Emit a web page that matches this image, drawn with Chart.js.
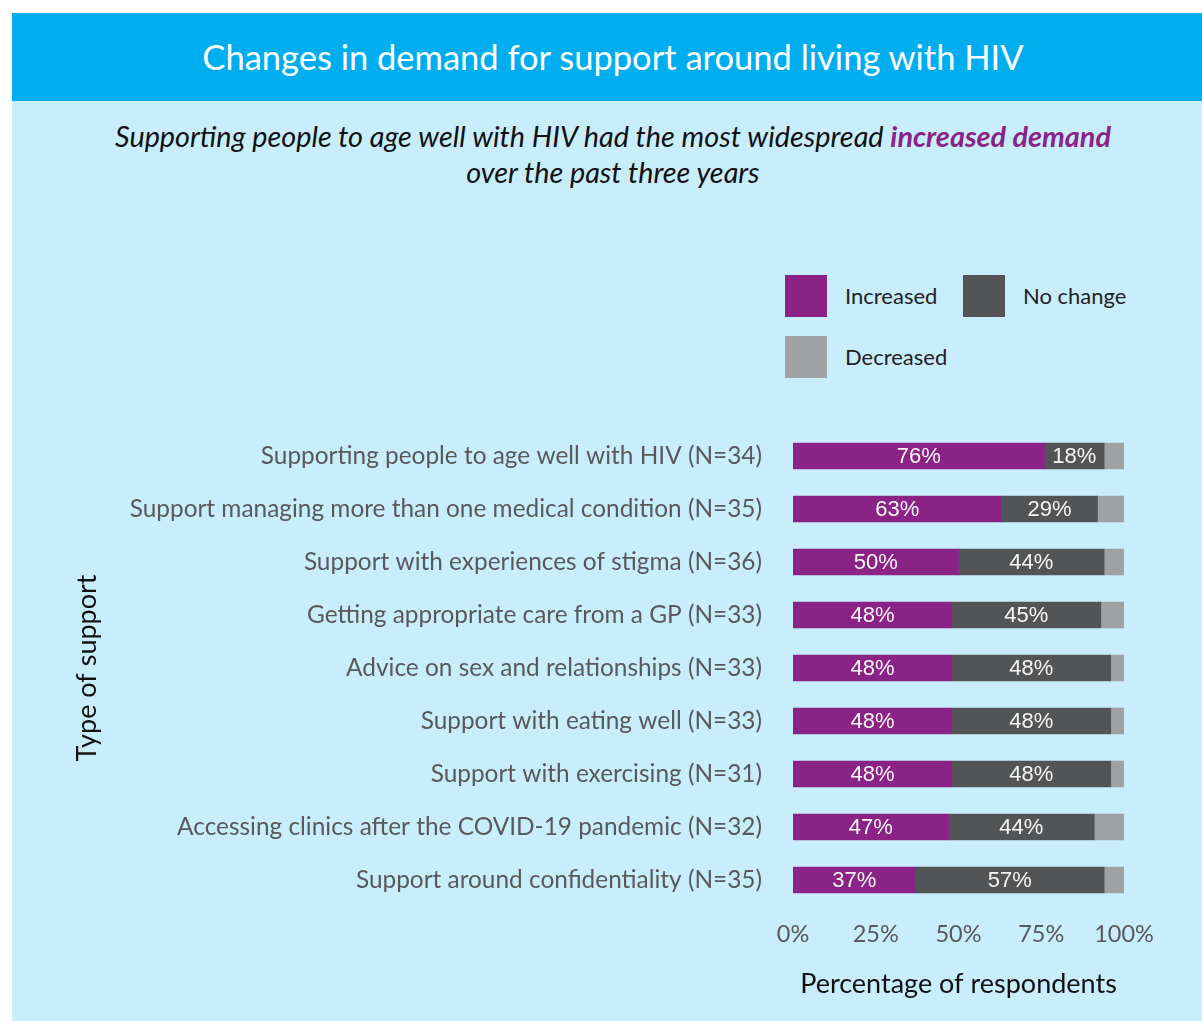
<!DOCTYPE html>
<html>
<head>
  <meta charset="utf-8">
  <title>Changes in demand for support around living with HIV</title>
  <script src="https://cdn.jsdelivr.net/npm/chart.js"></script>
  <style>
    html, body {
        margin: 0;
        padding: 0;
        width: 1202px;
        height: 1021px;
        overflow: hidden;
        background: #fff;
        font-family: Lato, sans-serif;
    }
    .panel {
        position: absolute;
        left: 12px;
        top: 13px;
        width: 1202px;
        height: 1008px;
        background: #c8eefd;
    }
    .header {
        height: 88px;
        line-height: 88px;
        background: #00aeef;
        color: #fff;
        font-size: 34.5px;
        text-align: center;
    }
    .subtitle {
        margin-top: 17px;
        font-size: 28.8px;
        line-height: 36px;
        font-style: italic;
        text-align: center;
        color: #111;
    }
    .subtitle b {
        color: #8b2387;
    }
    #legend {
        position: absolute;
        left: 773px;
        top: 262px;
    }
    .legend-item {
        position: absolute;
        width: 178px;
        height: 42px;
    }
    .legend-item span {
        position: absolute;
        left: 0;
        top: 0;
        width: 42px;
        height: 42px;
    }
    .legend-item label {
        position: absolute;
        left: 60px;
        top: 0;
        line-height: 42px;
        font-size: 22px;
        color: #222;
        white-space: nowrap;
    }
    .chart-box {
        position: absolute;
        left: 0;
        top: 387px;
        width: 1202px;
        height: 621px;
    }
  </style>
</head>
<body>

  <div class="panel">
    <div class="header">Changes in demand for support around living with HIV</div>
    <div class="subtitle">
      Supporting people to age well with HIV had the most widespread <b>increased demand</b><br>
      over the past three years
    </div>
    <div id="legend"></div>
    <div class="chart-box">
      <canvas id="demandChart" width="1202" height="621"></canvas>
    </div>
  </div>

  <script>
    const categories = [
        'Supporting people to age well with HIV (N=34)',
        'Support managing more than one medical condition (N=35)',
        'Support with experiences of stigma (N=36)',
        'Getting appropriate care from a GP (N=33)',
        'Advice on sex and relationships (N=33)',
        'Support with eating well (N=33)',
        'Support with exercising (N=31)',
        'Accessing clinics after the COVID-19 pandemic (N=32)',
        'Support around confidentiality (N=35)'
    ];
    const increased = [76, 63, 50, 48, 48, 48, 48, 47, 37];
    const noChange  = [18, 29, 44, 45, 48, 48, 48, 44, 57];
    const decreased = [6, 8, 6, 7, 4, 4, 4, 9, 6];
    const xTicks = [0, 25, 50, 75, 100];

    const seriesNames  = ['Increased', 'No change', 'Decreased'];
    const seriesColors = ['#8b2387', '#525456', '#a0a1a3'];

    // percentages written inside the purple and dark segments
    const barValueLabels = {
        id: 'barValueLabels',
        afterDatasetsDraw(chart) {
            const ctx = chart.ctx;
            ctx.save();
            ctx.font = '22px "Liberation Sans", Arial, sans-serif';
            ctx.fillStyle = '#f6f6f6';
            ctx.textAlign = 'center';
            ctx.textBaseline = 'middle';
            chart.data.datasets.forEach((ds, i) => {
                if (!ds.showValue) return;
                chart.getDatasetMeta(i).data.forEach((bar, j) => {
                    const x = (bar.x + bar.base) / 2;
                    ctx.fillText(ds.data[j] + '%', x, bar.y + 1);
                });
            });
            ctx.restore();
        }
    };

    const ctx = document.getElementById('demandChart').getContext('2d');
    const chart = new Chart(ctx, {
        type: 'bar',
        data: {
            labels: categories,
            datasets: [
                { label: seriesNames[0], data: increased, backgroundColor: seriesColors[0], showValue: true },
                { label: seriesNames[1], data: noChange,  backgroundColor: seriesColors[1], showValue: true },
                { label: seriesNames[2], data: decreased, backgroundColor: seriesColors[2], showValue: false }
            ]
        },
        options: {
            indexAxis: 'y',
            responsive: false,
            animation: false,
            layout: {
                padding: { top: 29.5, right: 90, bottom: 0, left: 0 }
            },
            datasets: {
                bar: { barThickness: 26, borderWidth: 0 }
            },
            scales: {
                x: {
                    stacked: true,
                    min: 0,
                    max: 100,
                    grid: { display: false, drawTicks: false },
                    border: { display: false },
                    afterBuildTicks: scale => {
                        scale.ticks = xTicks.map(v => ({ value: v }));
                    },
                    afterFit: scale => {
                        scale.height = 114.5;
                    },
                    ticks: {
                        padding: 13.4,
                        color: '#595959',
                        font: { family: 'Lato', size: 23.5 },
                        callback: v => v + '%'
                    },
                    title: {
                        display: true,
                        text: 'Percentage of respondents',
                        color: '#111',
                        font: { family: 'Lato', size: 27 },
                        padding: { top: 0, bottom: 20.8 }
                    }
                },
                y: {
                    stacked: true,
                    grid: { display: false, drawTicks: true, tickLength: 31 },
                    border: { display: false },
                    afterFit: scale => {
                        scale.width = 781;
                    },
                    ticks: {
                        padding: 0,
                        color: '#595959',
                        font: { family: 'Lato', size: 24.4 }
                    },
                    title: {
                        display: true,
                        text: 'Type of support',
                        color: '#111',
                        font: { family: 'Lato', size: 27 },
                        padding: { top: 58.8, bottom: 0 }
                    }
                }
            },
            plugins: {
                legend: { display: false },
                tooltip: { enabled: false }
            }
        },
        plugins: [barValueLabels]
    });

    // legend boxes in a two-column grid, built from the datasets
    const legendEl = document.getElementById('legend');
    chart.data.datasets.forEach((ds, i) => {
        const item = document.createElement('div');
        item.className = 'legend-item';
        item.style.left = (i % 2) * 178 + 'px';
        item.style.top = Math.floor(i / 2) * 61 + 'px';
        const box = document.createElement('span');
        box.style.background = ds.backgroundColor;
        const text = document.createElement('label');
        text.textContent = ds.label;
        item.appendChild(box);
        item.appendChild(text);
        legendEl.appendChild(item);
    });
  </script>
</body>
</html>
